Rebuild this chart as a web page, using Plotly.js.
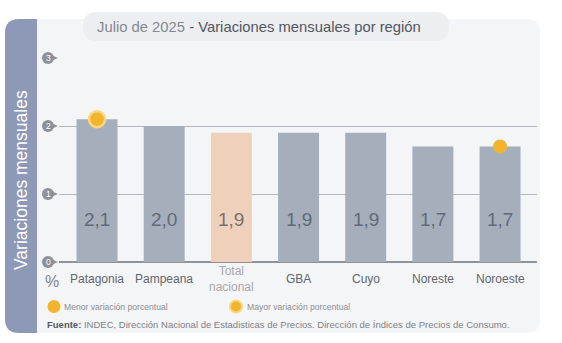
<!DOCTYPE html>
<html>
<head>
<meta charset="utf-8">
<script src="https://cdn.plot.ly/plotly-3.0.1.min.js"></script>
<style>html,body{margin:0;padding:0;background:#fff;}#chart{width:562px;height:343px;}</style>
</head>
<body>
<div id="chart"></div>
<script>
// ---- data ----
const regions = ['Patagonia', 'Pampeana', 'Total nacional', 'GBA', 'Cuyo', 'Noreste', 'Noroeste'];
const regionLabels = ['Patagonia', 'Pampeana', 'Total<br>nacional', 'GBA', 'Cuyo', 'Noreste', 'Noroeste'];
const values = [2.1, 2.0, 1.9, 1.9, 1.9, 1.7, 1.7];
const valueText = ['2,1', '2,0', '1,9', '1,9', '1,9', '1,7', '1,7'];
const mayorRegion = ['Patagonia'];
const mayorValue = [2.1];
const menorRegion = ['Noroeste'];
const menorValue = [1.7];
const yTicks = [0, 1, 2, 3];
const titleDate = 'Julio de 2025';
const titleMain = 'Variaciones mensuales por región';
const yTitle = 'Variaciones mensuales';
const legendMenor = 'Menor variación porcentual';
const legendMayor = 'Mayor variación porcentual';
const sourceText = 'INDEC, Dirección Nacional de Estadisticas de Precios. Dirección de Índices de Precios de Consumo.';

// ---- layout geometry helpers (pixel -> paper) ----
const W = 562, H = 343, L = 59, R = 25, T = 58, B = 81;
const PW = W - L - R, PH = H - T - B;
const Y_RANGE = [0, 3];
const px = x => (x - L) / PW;
const py = y => (H - B - y) / PH;
const vy = v => (v - Y_RANGE[0]) / (Y_RANGE[1] - Y_RANGE[0]); // data value -> paper y
const FONT = 'Liberation Sans, Arial, sans-serif';

function rrect(x0, y0, x1, y1, r, corners) {
  const c = corners || [1, 1, 1, 1]; // tl, tr, br, bl
  const rtl = r * c[0], rtr = r * c[1], rbr = r * c[2], rbl = r * c[3];
  return 'M' + px(x0 + rtl) + ',' + py(y0) +
    ' L' + px(x1 - rtr) + ',' + py(y0) +
    ' Q' + px(x1) + ',' + py(y0) + ' ' + px(x1) + ',' + py(y0 + rtr) +
    ' L' + px(x1) + ',' + py(y1 - rbr) +
    ' Q' + px(x1) + ',' + py(y1) + ' ' + px(x1 - rbr) + ',' + py(y1) +
    ' L' + px(x0 + rbl) + ',' + py(y1) +
    ' Q' + px(x0) + ',' + py(y1) + ' ' + px(x0) + ',' + py(y1 - rbl) +
    ' L' + px(x0) + ',' + py(y0 + rtl) +
    ' Q' + px(x0) + ',' + py(y0) + ' ' + px(x0 + rtl) + ',' + py(y0) + ' Z';
}

const shapes = [];
const annotations = [];

// card
shapes.push({type: 'path', xref: 'paper', yref: 'paper', layer: 'below', path: rrect(5, 19, 540, 333, 14),
  fillcolor: '#f4f5f7', line: {width: 0}});
// left band
shapes.push({type: 'path', xref: 'paper', yref: 'paper', layer: 'below', path: rrect(5, 19, 37, 333, 14, [1, 0, 0, 1]),
  fillcolor: '#8d99b6', line: {width: 0}});
// title pill
shapes.push({type: 'path', xref: 'paper', yref: 'paper', layer: 'below', path: rrect(83, 12, 449, 41, 14),
  fillcolor: '#eceef1', line: {width: 0}});

// y tick badges
const rY = 6 / PH, hY = 3.5 / PH;
yTicks.forEach(v => {
  const yc = vy(v);
  shapes.push({type: 'circle', xref: 'paper', yref: 'paper', x0: px(42), x1: px(54), y0: yc - rY, y1: yc + rY,
    fillcolor: '#8e9097', line: {width: 0}});
  shapes.push({type: 'path', xref: 'paper', yref: 'paper',
    path: 'M' + px(50) + ',' + (yc + hY) + ' L' + px(58) + ',' + yc + ' L' + px(50) + ',' + (yc - hY) + ' Z',
    fillcolor: '#8e9097', line: {width: 0}});
  annotations.push({xref: 'paper', yref: 'paper', x: px(48), y: yc, text: String(v), showarrow: false,
    xanchor: 'center', yanchor: 'middle', font: {family: FONT, size: 8.5, color: '#ffffff'}});
});

// title
annotations.push({xref: 'paper', yref: 'paper', x: px(95), y: py(27), xanchor: 'left', yanchor: 'middle', showarrow: false,
  text: '<span style="color:#86888f">' + titleDate + ' </span>- ' + titleMain,
  font: {family: FONT, size: 14.8, color: '#52565e'}});

// y title
annotations.push({xref: 'paper', yref: 'paper', x: px(21), y: py(180), xanchor: 'center', yanchor: 'middle', showarrow: false,
  textangle: -90, text: yTitle, font: {family: FONT, size: 17.5, color: '#ffffff'}});

// value labels inside bars and category labels
regions.forEach((r, i) => {
  annotations.push({xref: 'x', yref: 'y', x: r, y: 0.63, text: valueText[i], showarrow: false,
    xanchor: 'center', yanchor: 'middle',
    font: {family: FONT, size: 19, color: r === 'Total nacional' ? '#77716f' : '#616a7a'}});
  annotations.push({xref: 'x', yref: 'paper', x: r, y: py(279), text: regionLabels[i], showarrow: false,
    xanchor: 'center', yanchor: 'middle',
    font: {family: FONT, size: 12, color: r === 'Total nacional' ? '#a8a8a8' : '#60666f'}});
});

// % sign
annotations.push({xref: 'paper', yref: 'paper', x: px(52), y: py(281), text: '%', showarrow: false,
  xanchor: 'center', yanchor: 'middle', font: {family: FONT, size: 16, color: '#80858d'}});

// legend (manual)
shapes.push({type: 'circle', xref: 'paper', yref: 'paper', x0: px(47.5), x1: px(60.5), y0: py(313), y1: py(300),
  fillcolor: '#f2b42c', line: {width: 0}});
shapes.push({type: 'circle', xref: 'paper', yref: 'paper', x0: px(230), x1: px(242), y0: py(312.5), y1: py(300.5),
  fillcolor: '#f2b42c', line: {width: 2, color: '#f9d67f'}});
annotations.push({xref: 'paper', yref: 'paper', x: px(61.5), y: py(306.5), text: legendMenor, showarrow: false,
  xanchor: 'left', yanchor: 'middle', font: {family: FONT, size: 8.6, color: '#8b8e95'}});
annotations.push({xref: 'paper', yref: 'paper', x: px(244.5), y: py(306.5), text: legendMayor, showarrow: false,
  xanchor: 'left', yanchor: 'middle', font: {family: FONT, size: 8.6, color: '#8b8e95'}});

// source
annotations.push({xref: 'paper', yref: 'paper', x: px(45), y: py(324), showarrow: false,
  xanchor: 'left', yanchor: 'middle',
  text: '<b style="color:#55595f">Fuente:</b> ' + sourceText,
  font: {family: FONT, size: 9.5, color: '#7d8188'}});

const traces = [
  {type: 'bar', x: regions, y: values, width: 0.61,
   marker: {color: regions.map(r => r === 'Total nacional' ? '#efd0bb' : '#a5afbc'), line: {width: 0}},
   hoverinfo: 'none', showlegend: false},
  {type: 'scatter', mode: 'markers', x: mayorRegion, y: mayorValue, name: legendMayor, cliponaxis: false,
   marker: {size: 16, color: '#f2b42c', line: {width: 2.5, color: '#f9d67f'}}, showlegend: false, hoverinfo: 'none'},
  {type: 'scatter', mode: 'markers', x: menorRegion, y: menorValue, name: legendMenor, cliponaxis: false,
   marker: {size: 14, color: '#f2b42c', line: {width: 0}}, showlegend: false, hoverinfo: 'none'}
];

const layout = {
  width: W, height: H,
  margin: {l: L, r: R, t: T, b: B, pad: 0},
  paper_bgcolor: '#ffffff',
  plot_bgcolor: 'rgba(0,0,0,0)',
  showlegend: false,
  font: {family: FONT},
  xaxis: {type: 'category', range: [-0.566, 6.55], showgrid: false, zeroline: false, showticklabels: false,
    ticks: '', showline: false, fixedrange: true},
  yaxis: {range: Y_RANGE, tickvals: yTicks, showticklabels: false, ticks: '', showgrid: true,
    gridcolor: '#b3b6bd', gridwidth: 1, zeroline: true, zerolinecolor: '#8e939b', zerolinewidth: 1.5,
    showline: false, fixedrange: true},
  shapes: shapes,
  annotations: annotations
};

Plotly.newPlot('chart', traces, layout, {displayModeBar: false, staticPlot: true});
</script>
</body>
</html>
